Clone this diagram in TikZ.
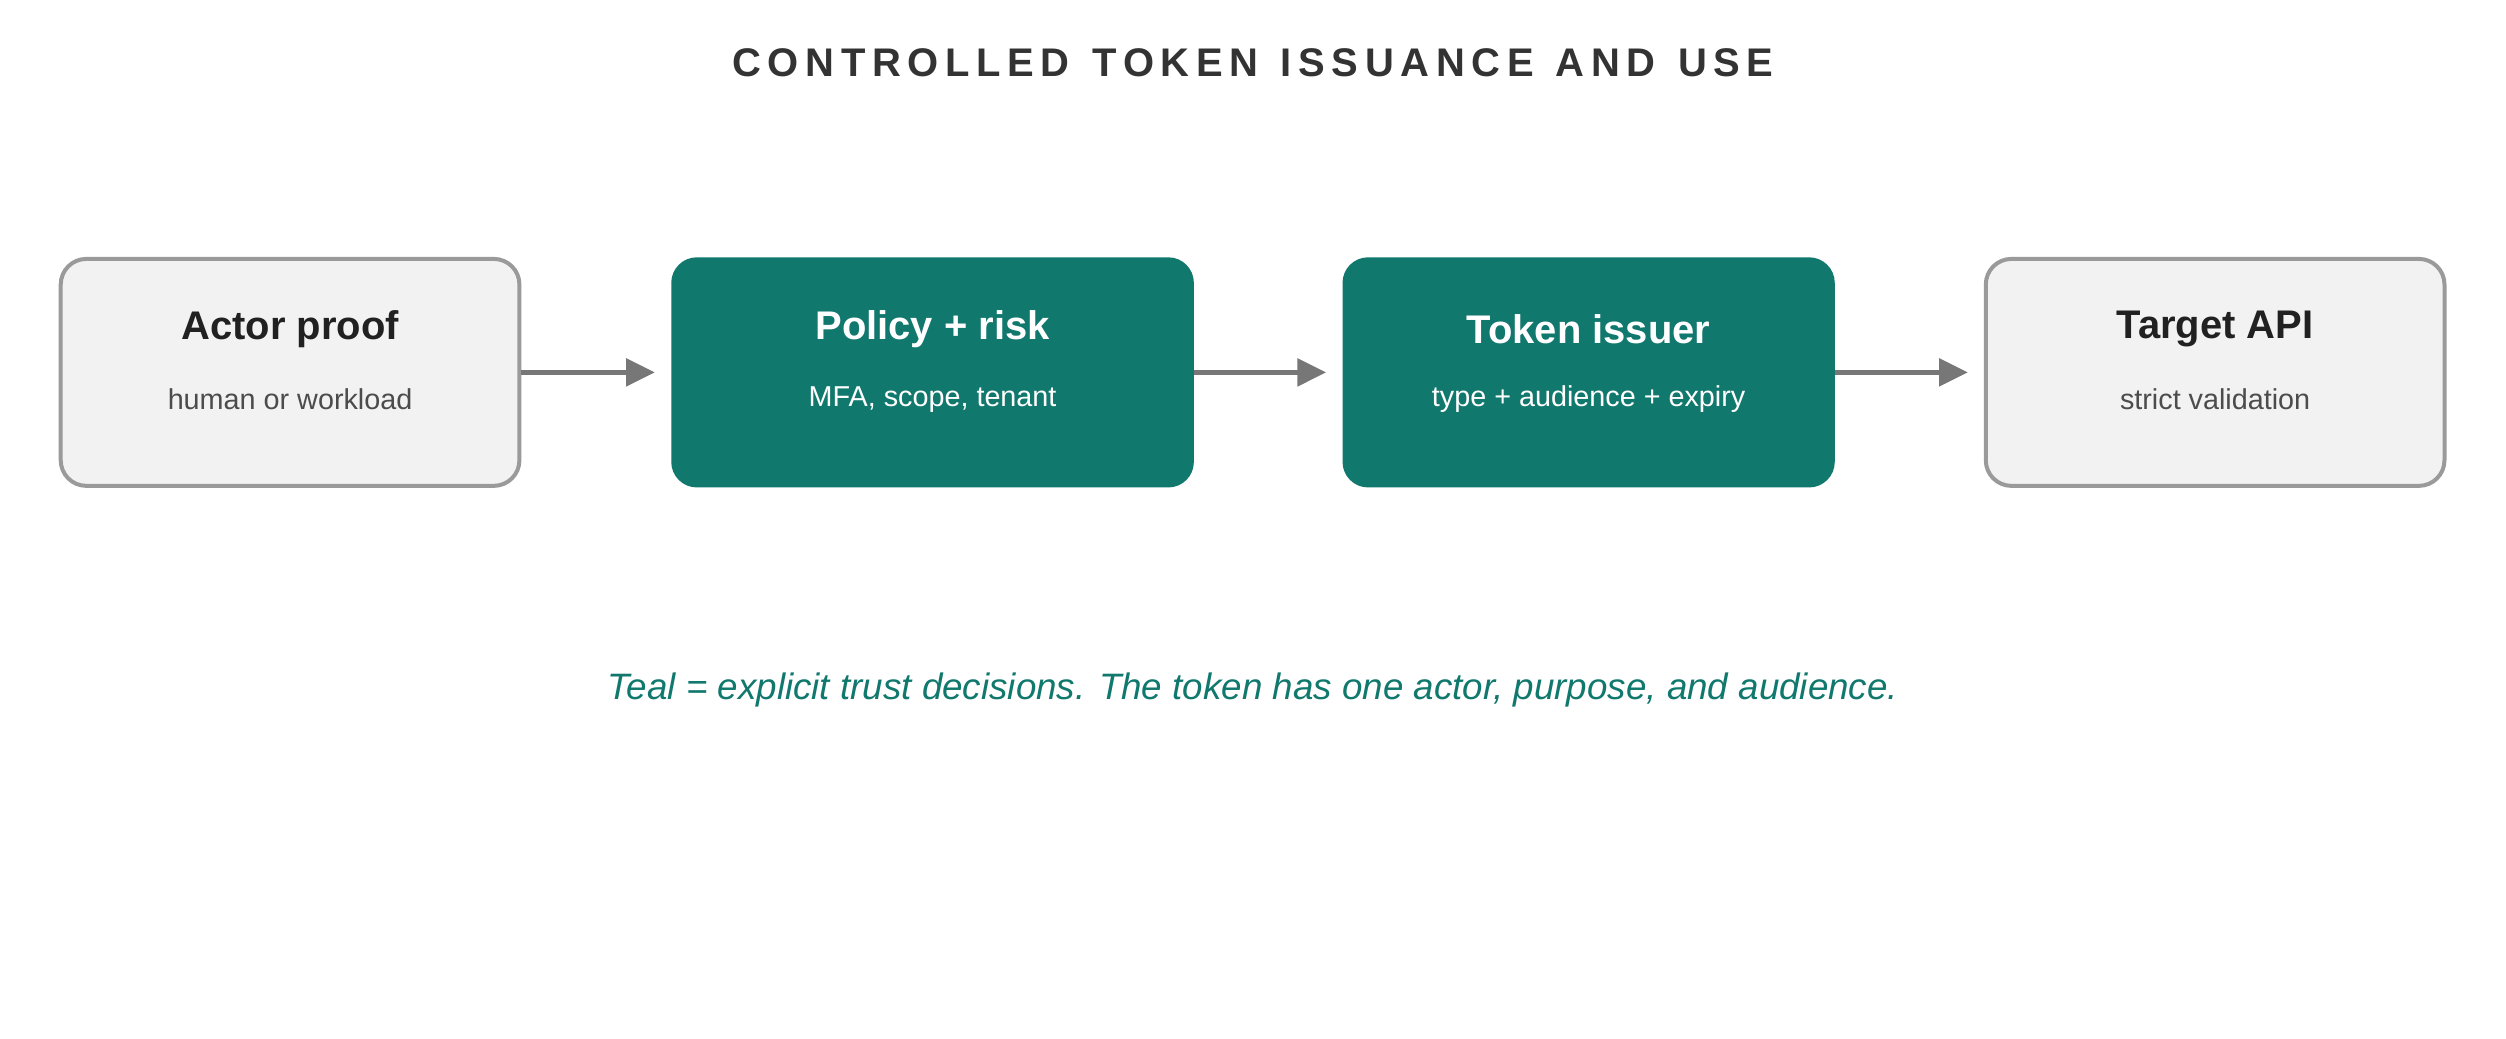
\documentclass[tikz,border=0pt]{standalone}
\usepackage{fontspec}
\setmainfont{Liberation Sans}
\usetikzlibrary{arrows.meta,positioning}
\definecolor{tealbox}{HTML}{11786E}
\definecolor{greyfill}{HTML}{F2F2F2}
\definecolor{greyline}{HTML}{9A9A9A}
\definecolor{arrowgrey}{HTML}{777777}
\definecolor{titlegrey}{HTML}{333333}
\tikzset{
  plainbox/.style={draw=greyline, line width=2.5pt, fill=greyfill, rounded corners=16pt,
    minimum width=287pt, minimum height=142pt},
  tealbox/.style={fill=tealbox, rounded corners=16pt,
    minimum width=318pt, minimum height=144pt},
  boxtitle/.style={font=\fontsize{25}{30}\selectfont\bfseries},
  boxsub/.style={font=\fontsize{18}{22}\selectfont},
  flow/.style={draw=arrowgrey, line width=3pt, -{Triangle[length=18pt,width=17pt]}}
}
\begin{document}
\begin{tikzpicture}[x=1pt,y=-1pt]
  \useasboundingbox (0,0) rectangle (1568,650);

  % title
  \node (title) [font=\fontsize{25}{30}\selectfont\bfseries, text=titlegrey] at (784,39) {C\,O\,N\,T\,R\,O\,L\,L\,E\,D\ \ T\,O\,K\,E\,N\ \ I\,S\,S\,U\,A\,N\,C\,E\ \ A\,N\,D\ \ U\,S\,E};

  % boxes
  \node (actor) [plainbox] at (181.5,233) {};
  \node (policy) [tealbox, minimum width=327pt] at (583.5,233) {};
  \node (issuer) [tealbox, minimum width=308pt] at (994,233) {};
  \node (target) [plainbox] at (1386,233) {};

  % box texts
  \node [boxtitle, text=black!87] at (181.5,206) {Actor proof};
  \node [boxsub, text=black!70] at (181.5,250) {human or workload};
  \node [boxtitle, text=white] at (583.5,206) {Policy + risk};
  \node [boxsub, text=white] at (583.5,250) {MFA, scope, tenant};
  \node [boxtitle, text=white] at (994,206) {Token issuer};
  \node [boxsub, text=white] at (994,250) {type + audience + expiry};
  \node [boxtitle, text=black!87] at (1386,206) {Target API};
  \node [boxsub, text=black!70] at (1386,250) {strict validation};

  % connectors
  \draw [flow] (actor.east) -- ([xshift=-10pt]policy.west);
  \draw [flow] (policy.east) -- ([xshift=-10pt]issuer.west);
  \draw [flow] (issuer.east) -- ([xshift=-10pt]target.west);

  % caption
  \node (note) [font=\fontsize{23}{28}\selectfont\itshape, text=tealbox] at (784,432)
    {Teal = explicit trust decisions. The token has one actor, purpose, and audience.};
\end{tikzpicture}
\end{document}
